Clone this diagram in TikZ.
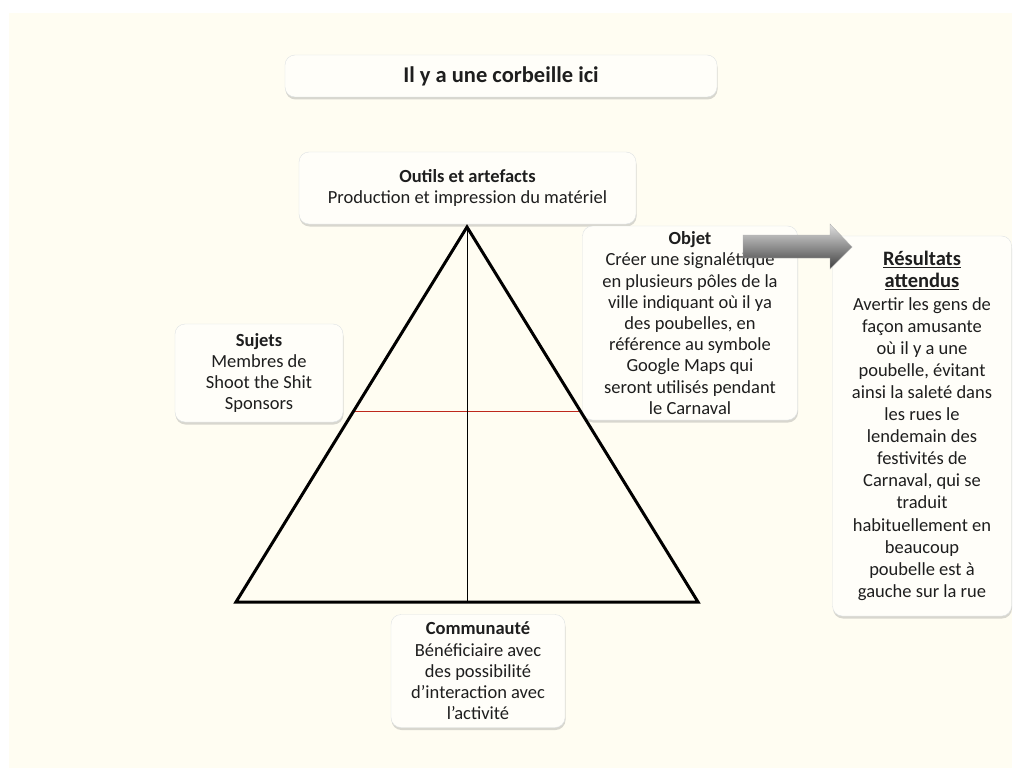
\documentclass[tikz,border=0pt]{standalone}
\usepackage{fontspec}
\setmainfont{Carlito}
\usetikzlibrary{shadows,calc}
\definecolor{cream}{RGB}{255,253,242}
\definecolor{boxfill}{RGB}{255,254,249}
\definecolor{boxline}{RGB}{222,226,228}
\definecolor{redline}{RGB}{190,40,28}
\definecolor{texte}{RGB}{30,30,30}
\begin{document}
\begin{tikzpicture}[x=1pt,y=-1pt,
		box/.style={draw=boxline, fill=boxfill, rounded corners=10pt, text=texte,
			drop shadow={shadow xshift=0.5pt, shadow yshift=-2.5pt, opacity=0.3, fill=gray},
			align=center, inner sep=2pt, font=\fontsize{18.5}{21.2}\selectfont}]
			\useasboundingbox (0,0) rectangle (1016,778);
			\fill[cream] (9,13) rectangle (1012,768);
			% boites
			\node[box, minimum width=432pt, minimum height=42pt, font=\fontsize{22.5}{26}\selectfont\bfseries] (corbeille) at (501,76) {Il y a une corbeille ici};
			\node[box, minimum width=337pt, minimum height=72pt] (outils) at (467.5,188) {\textbf{Outils et artefacts}\\Production et impression du matériel};
			\node[box, minimum width=168pt, minimum height=98pt] (sujets) at (259,373) {\textbf{Sujets}\\Membres de\\Shoot the Shit\\Sponsors};
			\node[box, minimum width=215pt, minimum height=194pt] (objet) at (690,323) {\textbf{Objet}\\Créer une signalétique\\en plusieurs pôles de la\\ville indiquant où il ya\\des poubelles, en\\référence au symbole\\Google Maps qui\\seront utilisés pendant\\le Carnaval};
			\node[box, minimum width=179pt, minimum height=380pt, font=\fontsize{18.5}{22.1}\selectfont] (resultats) at (922,426) {\fontsize{20.5}{22.1}\selectfont\textbf{\underline{Résultats}}\\\fontsize{20.5}{22.1}\selectfont\textbf{\underline{attendus}}\\Avertir les gens de\\façon amusante\\où il y a une\\poubelle, évitant\\ainsi la saleté dans\\les rues le\\lendemain des\\festivités de\\Carnaval, qui se\\traduit\\habituellement en\\beaucoup\\poubelle est à\\gauche sur la rue};
			\node[box, minimum width=174pt, minimum height=113pt] (communaute) at (478,671) {\textbf{Communauté}\\Bénéficiaire avec\\des possibilité\\d’interaction avec\\l’activité};
			% triangle
			\coordinate (S) at (467,227);
			\coordinate (G) at (236,602);
			\coordinate (D) at (698,602);
			\coordinate (B) at (467,602);
			\draw[redline, line width=1pt] ($(S)!0.493!(G)$) -- ($(S)!0.493!(D)$);
			\draw[black, line width=1pt] (S) -- (B);
			\draw[black, line width=3pt, line join=miter] (S) -- (G) -- (D) -- cycle;
			% fleche
			\shade[top color=gray!25, middle color=gray!75, bottom color=black!75, draw=gray!60, line width=0.4pt]
				(743,235) -- (830,235) -- (830,224) -- (852,247) -- (830,269) -- (830,258) -- (743,258) -- cycle;
		\end{tikzpicture}
\end{document}
